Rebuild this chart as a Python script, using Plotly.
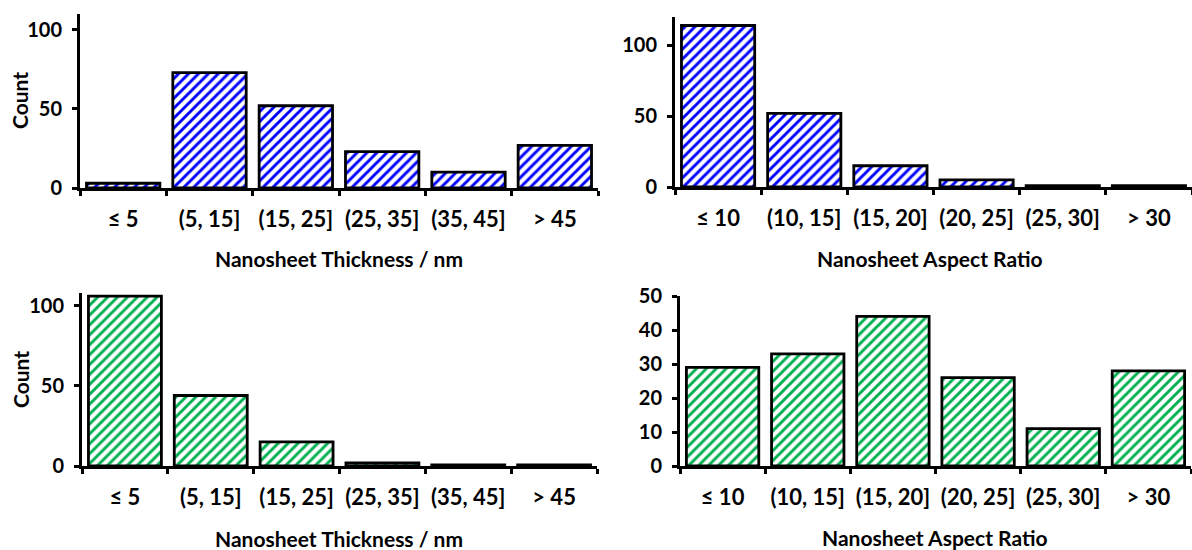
import plotly.graph_objects as go

# ---- data ----
thickness_bins = ["≤ 5", "(5, 15]", "(15, 25]", "(25, 35]", "(35, 45]", "> 45"]
aspect_bins = ["≤ 10", "(10, 15]", "(15, 20]", "(20, 25]", "(25, 30]", "> 30"]

thickness_blue = [3, 73, 52, 23, 10, 27]
aspect_blue = [114, 52, 15, 5, 1, 1]
thickness_green = [106, 44, 15, 2, 0.7, 0.7]
aspect_green = [29, 33, 44, 26, 11, 28]

BLUE = "#0000FF"
GREEN = "#00B050"
FONT = "Lato"

W, H = 1192, 550


def px_x(a, b):
    return [a / W, b / W]


def px_y(top, bottom):
    return [1 - bottom / H, 1 - top / H]


fig = go.Figure()

panels = [
    ("x", "y", thickness_bins, thickness_blue, BLUE),
    ("x2", "y2", aspect_bins, aspect_blue, BLUE),
    ("x3", "y3", thickness_bins, thickness_green, GREEN),
    ("x4", "y4", aspect_bins, aspect_green, GREEN),
]
for xa, ya, cats, vals, col in panels:
    fig.add_trace(go.Bar(
        x=cats, y=vals, xaxis=xa, yaxis=ya,
        marker=dict(
            color="white",
            line=dict(color="black", width=2.8),
            pattern=dict(shape="/", fgcolor=col, bgcolor="white",
                         size=7, solidity=0.42, fillmode="replace"),
        ),
        showlegend=False,
    ))

xcommon = dict(
    type="category", showline=True, linecolor="black", linewidth=3,
    ticks="outside", tickson="boundaries", ticklen=5, tickwidth=2.5,
    tickcolor="black", showgrid=False, zeroline=False, automargin=False,
    tickfont=dict(family=FONT, size=22, color="black", weight="bold"),
    ticklabelstandoff=10, range=[-0.5, 5.5],
)
ycommon = dict(
    showline=True, linecolor="black", linewidth=3,
    ticks="outside", ticklen=5, tickwidth=2.5, tickcolor="black",
    showgrid=False, zeroline=False, automargin=False,
    tickfont=dict(family=FONT, size=20, color="black", weight="bold"),
    ticklabelstandoff=6,
)

fig.update_layout(
    template="none",
    width=W, height=H,
    margin=dict(l=0, r=0, t=0, b=0, pad=0),
    paper_bgcolor="white", plot_bgcolor="white",
    bargap=0.15,
    xaxis=dict(xcommon, domain=px_x(80, 598), anchor="y"),
    yaxis=dict(ycommon, domain=px_y(14, 188), anchor="x", range=[0, 110], tickvals=[0, 50, 100]),
    xaxis2=dict(xcommon, domain=px_x(675, 1192), anchor="y2"),
    yaxis2=dict(ycommon, domain=px_y(17, 187), anchor="x2", range=[0, 120], tickvals=[0, 50, 100]),
    xaxis3=dict(xcommon, domain=px_x(82, 597), anchor="y3"),
    yaxis3=dict(ycommon, domain=px_y(293, 466), anchor="x3", range=[0, 108], tickvals=[0, 50, 100]),
    xaxis4=dict(xcommon, domain=px_x(680, 1191), anchor="y4"),
    yaxis4=dict(ycommon, domain=px_y(296, 466), anchor="x4", range=[0, 50], tickvals=[0, 10, 20, 30, 40, 50]),
)

title_font = dict(family=FONT, size=21, color="black", weight="bold")
annots = [
    ("Nanosheet Thickness / nm", 339, 258, 0),
    ("Nanosheet Aspect Ratio", 930, 258, 0),
    ("Nanosheet Thickness / nm", 339, 538, 0),
    ("Nanosheet Aspect Ratio", 935, 537, 0),
    ("Count", 20, 101, -90),
    ("Count", 20, 380, -90),
]
for text, cx, cy, ang in annots:
    fig.add_annotation(
        text=text, x=cx / W, y=1 - cy / H, xref="paper", yref="paper",
        xanchor="center", yanchor="middle", showarrow=False,
        textangle=ang, font=title_font,
    )

fig.write_html("out.html")
